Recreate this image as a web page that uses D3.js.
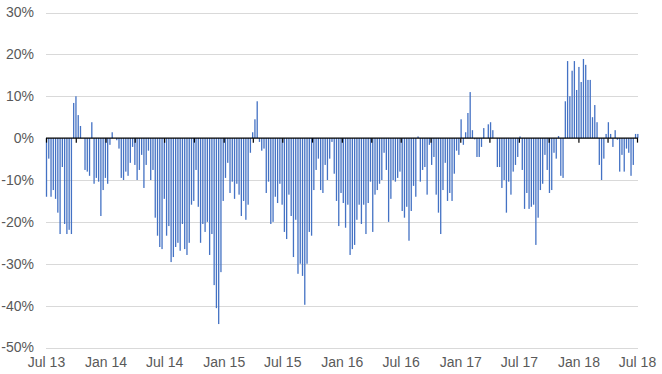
<!DOCTYPE html>
<html>
<head>
<meta charset="utf-8">
<script src="https://cdn.jsdelivr.net/npm/d3@7"></script>
<style>
  body { margin: 0; background: #fff; }
  svg text { font-family: "Liberation Sans", Arial, sans-serif; }
</style>
</head>
<body>
<div id="chart"></div>
<script>
// weekly % change in chunks from Jul 13 to Jul 18
var weeks2013 = [-14.0, -4.9, -14.0, -12.4, -14.5, -17.8, -22.9, -6.9, -20.5, -22.9, -21.9, -22.9, 8.4, 10.0, 5.5, 2.9, 0, -7.6, -8.0, -9.0, 3.8, -10.9, -9.5, -10.4, -18.6, -12.4, -9.5, -10.9, -1.6, 1.4, 0, -0.5, -2.5, -9.5, -10.0, -8.0, -9.0, -5.9, -2.1, -6.4, -10.0, -7.6, -4.0, -11.9]
var weeks2014 = [-6.4, -3.0, -10.0, -7.6, -19.0, -23.3, -26.0, -26.5, -14.5, -23.3, -21.0, -29.6, -28.4, -26.0, -25.0, -26.9, -20.5, -26.5, -27.9, -25.0, -15.9, -15.0, -7.6, -16.4, -25.0, -20.5, -22.4, -20.0, -27.9, -22.9, -35.1, -40.6, -44.4, -32.0, -15.0, -9.5, -5.9, -13.1, -10.4, -14.5, -10.9, -13.5, -18.6, -15.0]
var weeks2015 = [-19.5, -15.9, -3.5, 1.4, 4.5, 8.8, -0.9, -3.0, -2.5, -13.1, -10.4, -20.5, -20.0, -14.0, -15.5, -10.9, -15.9, -22.4, -24.1, -13.5, -18.6, -28.4, -19.5, -32.4, -30.0, -32.9, -39.8, -30.0, -22.4, -23.3, -12.4, -7.6, -4.9, -12.4, -13.1, -6.4, -10.0, -4.9, -0.9, -8.5, -15.0, -21.0, -13.1, -15.5, -21.4]
var weeks2016 = [-15.9, -27.9, -26.5, -25.5, -19.5, -15.9, -20.5, -15.9, -22.9, -15.5, -10.4, -22.4, -13.5, -12.4, -10.9, -10.0, -3.5, -7.6, -20.0, -14.5, -10.0, -10.4, -9.5, -8.0, -17.4, -19.0, -16.4, -24.5, -17.4, -11.4, -14.0, 0.4, -10.4, -7.6, -6.9, -13.5, -1.6, -6.4, -4.5, -13.5, -17.8, -22.9, -12.4, -5.9]
var weeks2017 = [-15.0, -13.1, -15.0, -8.5, -3.0, -4.0, 4.5, -1.6, 1.4, 6.0, 11.0, 1.9, -0.3, -4.5, -4.5, -2.1, 2.4, 0, 3.3, 3.8, 1.9, 0, -6.9, -6.9, -11.9, -10.0, -17.8, -10.4, -13.5, -8.0, -6.4, -4.5, 0.4, -7.6, -16.9, -13.1, -16.9, -16.4, -15.9, -25.5, -19.0, -12.4, -10.9, -4.0]
var weeks2018 = [-7.6, -13.1, -12.4, -3.5, -4.9, 0.5, -9.0, -9.5, 8.8, 18.4, 10.0, 16.1, 18.4, 11.5, 17.0, 13.4, 18.9, 17.5, 13.9, 13.9, 5.0, 7.9, 3.8, -6.4, -10.0, -4.9, 1.0, 3.8, 1.0, -2.1, 1.9, -0.4, -8.0, -4.0, -8.0, -2.5, -3.5, -9.0, -6.4, 1.0, 1.0]

var yTicks = [30, 20, 10, 0, -10, -20, -30, -40, -50]
var startDate = new Date(2013, 6, 1)
var endDate = new Date(2018, 6, 1)

var values = [].concat(weeks2013, weeks2014, weeks2015, weeks2016, weeks2017, weeks2018)
var data = values.map(function(v, i) {
  return { date: d3.timeDay.offset(startDate, i * 7), value: v }
})

var width = 662,
  height = 374

var x = d3.scaleTime().domain([startDate, endDate]).range([46.5, 637.5])
var y = d3.scaleLinear().domain([-50, 30]).range([347.5, 12.5])

var svg = d3
  .select('#chart')
  .append('svg')
  .attr('width', width)
  .attr('height', height)

// gridlines
svg
  .append('g')
  .selectAll('line')
  .data(yTicks.filter(d => d !== 0))
  .enter()
  .append('line')
  .attr('x1', 46)
  .attr('x2', 638)
  .attr('y1', d => Math.round(y(d)) + 0.5)
  .attr('y2', d => Math.round(y(d)) + 0.5)
  .attr('stroke', '#d9d9d9')
  .attr('stroke-width', 1)

// y labels
svg
  .append('g')
  .selectAll('text')
  .data(yTicks)
  .enter()
  .append('text')
  .attr('x', 34)
  .attr('y', d => y(d))
  .attr('dy', '0.35em')
  .attr('text-anchor', 'end')
  .attr('font-size', 14)
  .attr('fill', '#595959')
  .text(d => d + '%')

// bars
svg
  .append('g')
  .selectAll('rect')
  .data(data)
  .enter()
  .append('rect')
  .attr('x', d => x(d.date) - 0.65)
  .attr('width', 1.3)
  .attr('y', d => y(Math.max(0, d.value)))
  .attr('height', d => Math.abs(y(d.value) - y(0)))
  .attr('fill', '#4472c4')

// zero axis with quarterly ticks
var quarters = d3.timeMonth.every(3).range(startDate, d3.timeDay.offset(endDate, 1))
svg
  .append('line')
  .attr('x1', 46)
  .attr('x2', 638)
  .attr('y1', y(0))
  .attr('y2', y(0))
  .attr('stroke', '#000')
  .attr('stroke-width', 1.3)

svg
  .append('g')
  .selectAll('line')
  .data(quarters)
  .enter()
  .append('line')
  .attr('x1', d => x(d))
  .attr('x2', d => x(d))
  .attr('y1', y(0))
  .attr('y2', y(0) + 4.5)
  .attr('stroke', '#000')
  .attr('stroke-width', 1.2)

// x labels, every six months
var fmt = d3.timeFormat('%b %y')
svg
  .append('g')
  .selectAll('text')
  .data(quarters.filter(d => d.getMonth() % 6 === 0))
  .enter()
  .append('text')
  .attr('x', d => x(d))
  .attr('y', 362.5)
  .attr('dy', '0.35em')
  .attr('text-anchor', 'middle')
  .attr('font-size', 14)
  .attr('fill', '#595959')
  .text(d => fmt(d))
</script>
</body>
</html>
